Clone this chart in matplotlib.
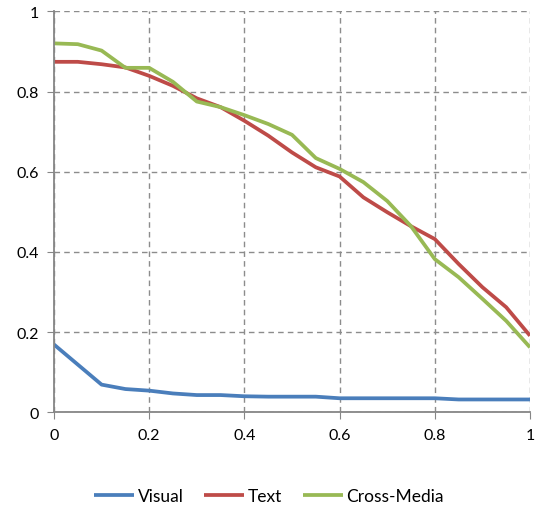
import numpy as np
import matplotlib
matplotlib.use('Agg')
import matplotlib.pyplot as plt

x = [0, 0.05, 0.1, 0.15, 0.2, 0.25, 0.3, 0.35, 0.4, 0.45, 0.5,
     0.55, 0.6, 0.65, 0.7, 0.75, 0.8, 0.85, 0.9, 0.95, 1.0]
visual = [0.169, 0.119, 0.069, 0.058, 0.054, 0.047, 0.043, 0.043, 0.040, 0.039, 0.039,
          0.039, 0.035, 0.035, 0.035, 0.035, 0.035, 0.032, 0.032, 0.032, 0.032]
text = [0.874, 0.874, 0.868, 0.860, 0.839, 0.814, 0.783, 0.761, 0.727, 0.690, 0.648,
        0.611, 0.588, 0.536, 0.499, 0.464, 0.432, 0.370, 0.312, 0.262, 0.191]
cross = [0.920, 0.918, 0.902, 0.859, 0.859, 0.824, 0.775, 0.761, 0.741, 0.719, 0.692,
         0.634, 0.607, 0.574, 0.527, 0.464, 0.382, 0.337, 0.283, 0.228, 0.162]
labels = ['Visual', 'Text', 'Cross-Media']
colors = ['#4A7EBB', '#BE4B48', '#98B954']

plt.rcParams['font.family'] = ['Lato', 'DejaVu Sans']

fig = plt.figure(figsize=(5.38, 5.10), dpi=100)
ax = fig.add_axes([54/538, 1 - 413.3/510, 476/538, 401/510])

for ys, lab, c in zip([visual, text, cross], labels, colors):
    ax.plot(x, ys, color=c, linewidth=2.7, label=lab, solid_capstyle='butt')

ax.set_xlim(0, 1)
ax.set_ylim(0, 1)
ax.set_xticks([0, 0.2, 0.4, 0.6, 0.8, 1])
ax.set_yticks([0, 0.2, 0.4, 0.6, 0.8, 1])
ax.set_xticklabels(['0', '0.2', '0.4', '0.6', '0.8', '1'])
ax.set_yticklabels(['0', '0.2', '0.4', '0.6', '0.8', '1'])
ax.grid(True, color='#8c8c8c', linestyle=(0, (4, 3)), linewidth=1.0)
ax.set_axisbelow(True)
for s in ['top', 'right']:
    ax.spines[s].set_visible(False)
for s in ['left', 'bottom']:
    ax.spines[s].set_color('#868686')
    ax.spines[s].set_linewidth(1.3)
ax.tick_params(axis='both', direction='out', length=5, color='#868686',
               labelsize=11.5, pad=6)

fig.legend(loc='center', bbox_to_anchor=(0.5, 1 - 497/510), ncol=3, frameon=False,
           fontsize=12.5, handlelength=2.3, handletextpad=0.2, columnspacing=1.2)

plt.savefig('out.png', dpi=100)
